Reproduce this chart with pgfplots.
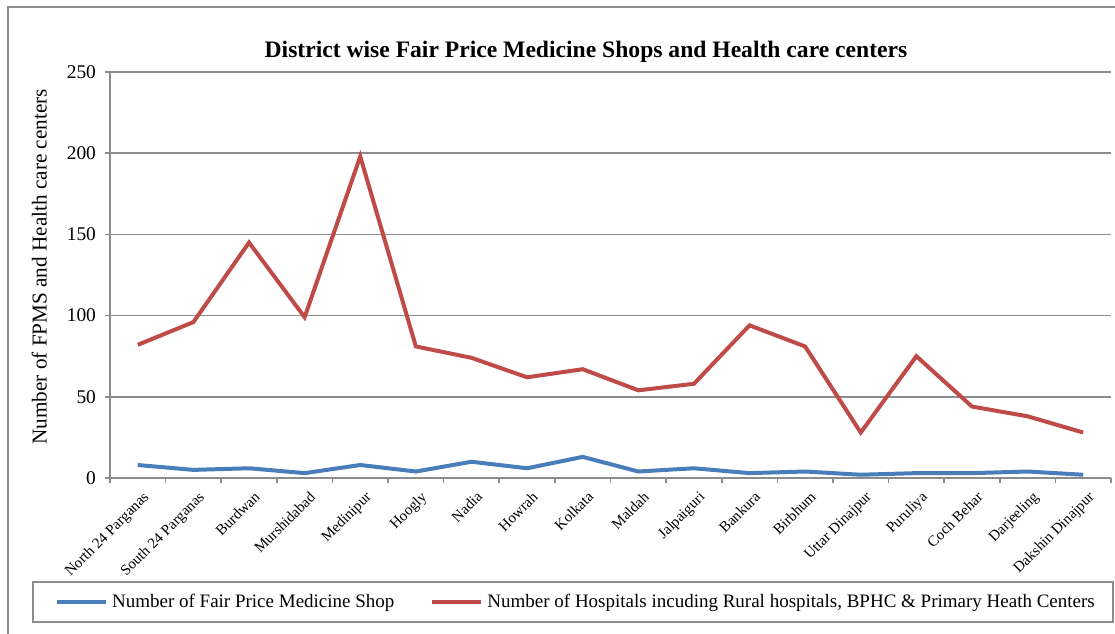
\documentclass[border=0pt]{standalone}
\usepackage{fontspec}
\setmainfont{Liberation Serif}
\usepackage{pgfplots}
\pgfplotsset{compat=1.18}

\definecolor{fpms}{HTML}{4A7EBB}
\definecolor{hosp}{HTML}{BE4B48}
\definecolor{axgray}{HTML}{8C8C8C}

\begin{document}
\begin{tikzpicture}
\begin{axis}[
    at={(0,0)}, anchor=south west,
    scale only axis,
    width=500.5pt, height=203pt,
    xmin=-0.5, xmax=17.5,
    ymin=0, ymax=250,
    ytick={0,50,...,250},
    xtick={0,...,17},
    xticklabels={North 24 Parganas,South 24 Parganas,Burdwan,Murshidabad,Medinipur,Hoogly,Nadia,Howrah,Kolkata,Maldah,Jalpaiguri,Bankura,Birbhum,Uttar Dinajpur,Puruliya,Coch Behar,Darjeeling,Dakshin Dinajpur},
    minor xtick={-0.5,0.5,...,17.5},
    major x tick style={draw=none},
    tick align=outside,
    major tick length=2.5pt,
    minor tick length=2.5pt,
    tick style={axgray, line width=0.8pt},
    axis x line*=bottom,
    axis y line*=left,
    axis line style={axgray, line width=0.8pt, -},
    ymajorgrids,
    grid style={axgray, line width=0.8pt},
    /pgf/number format/assume math mode=true,
    yticklabel style={font=\fontsize{9.7}{11}\selectfont, xshift=-1pt},
    xticklabel style={font=\fontsize{7.5}{8.5}\selectfont, rotate=45, anchor=north east, inner sep=1pt, xshift=0pt, yshift=-3pt},
    ylabel={Number of FPMS and Health care centers},
    ylabel style={font=\fontsize{10.6}{12}\selectfont, at={(axis description cs:-0.056,0.52)}, anchor=south},
    title={\textbf{District wise Fair Price Medicine Shops and Health care centers}},
    title style={font=\fontsize{11.8}{13}\selectfont, at={(axis description cs:0.4755,1.02)}, anchor=center},
    legend style={draw=none, fill=none, font=\fontsize{9.5}{11}\selectfont,
        at={(axis description cs:0.4665,-0.3054)}, anchor=center,
        legend columns=2,
        /tikz/every even column/.append style={column sep=16pt},
        inner sep=0pt},
    legend cell align=left,
    legend image code/.code={\draw[#1] (0pt,0pt) -- (24.5pt,0pt);},
]
\addplot[fpms, line width=2pt] coordinates {
    (0,8) (1,5) (2,6) (3,3) (4,8) (5,4) (6,10) (7,6) (8,13)
    (9,4) (10,6) (11,3) (12,4) (13,2) (14,3) (15,3) (16,4) (17,2)
};
\addlegendentry{Number of Fair Price Medicine Shop}
\addplot[hosp, line width=2pt] coordinates {
    (0,82) (1,96) (2,145) (3,99) (4,198) (5,81) (6,74) (7,62) (8,67)
    (9,54) (10,58) (11,94) (12,81) (13,28) (14,75) (15,44) (16,38) (17,28)
};
\addlegendentry{Number of Hospitals incuding Rural hospitals, BPHC \& Primary Heath Centers}
\end{axis}
% legend box and outer chart frame
\draw[axgray, line width=0.6pt] (-38.5pt,-52pt) rectangle (501.5pt,-72pt);
\draw[axgray, line width=0.6pt] (-51pt,235.5pt) rectangle (520pt,-95pt);
\pgfresetboundingbox
\useasboundingbox (-55pt,-77.5pt) rectangle (502.5pt,239pt);
\end{tikzpicture}
\end{document}
